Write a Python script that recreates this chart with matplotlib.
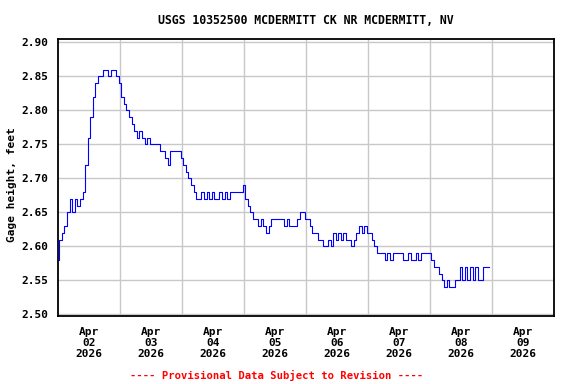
import matplotlib
matplotlib.use('Agg')
import matplotlib.pyplot as plt
import pandas as pd

site_title = "USGS 10352500 MCDERMITT CK NR MCDERMITT, NV"
y_label = "Gage height, feet"
footer = "---- Provisional Data Subject to Revision ----"

apr02 = [2.58, 2.61, 2.62, 2.63, 2.65, 2.67, 2.65, 2.67, 2.66, 2.67, 2.68, 2.72,
         2.76, 2.79, 2.82, 2.84, 2.85, 2.85, 2.86, 2.86, 2.85, 2.86, 2.86, 2.85]
apr03 = [2.84, 2.82, 2.81, 2.80, 2.79, 2.78, 2.77, 2.76, 2.77, 2.76, 2.75, 2.76,
         2.75, 2.75, 2.75, 2.75, 2.74, 2.74, 2.73, 2.72, 2.74, 2.74, 2.74, 2.74]
apr04 = [2.73, 2.72, 2.71, 2.70, 2.69, 2.68, 2.67, 2.67, 2.68, 2.67, 2.68, 2.67,
         2.68, 2.67, 2.67, 2.68, 2.67, 2.68, 2.67, 2.68, 2.68, 2.68, 2.68, 2.68]
apr05 = [2.69, 2.67, 2.66, 2.65, 2.64, 2.64, 2.63, 2.64, 2.63, 2.62, 2.63, 2.64,
         2.64, 2.64, 2.64, 2.64, 2.63, 2.64, 2.63, 2.63, 2.63, 2.64, 2.65, 2.65]
apr06 = [2.64, 2.64, 2.63, 2.62, 2.62, 2.61, 2.61, 2.60, 2.60, 2.61, 2.60, 2.62,
         2.61, 2.62, 2.61, 2.62, 2.61, 2.61, 2.60, 2.61, 2.62, 2.63, 2.62, 2.63]
apr07 = [2.62, 2.62, 2.61, 2.60, 2.59, 2.59, 2.59, 2.58, 2.59, 2.58, 2.59, 2.59,
         2.59, 2.59, 2.58, 2.58, 2.59, 2.58, 2.58, 2.59, 2.58, 2.59, 2.59, 2.59]
apr08 = [2.59, 2.58, 2.57, 2.57, 2.56, 2.55, 2.54, 2.55, 2.54, 2.54, 2.55, 2.55,
         2.57, 2.55, 2.57, 2.55, 2.57, 2.55, 2.57, 2.55, 2.55, 2.57, 2.57, 2.57]

gage = apr02 + apr03 + apr04 + apr05 + apr06 + apr07 + apr08
times = pd.date_range("2026-04-02 00:00", periods=len(gage), freq="h")

y_ticks = [2.50, 2.55, 2.60, 2.65, 2.70, 2.75, 2.80, 2.85, 2.90]
midnights = pd.date_range("2026-04-02", "2026-04-10", freq="D")
noons = pd.date_range("2026-04-02 12:00", periods=8, freq="D")

font = dict(family="DejaVu Sans Mono", weight="bold", size=8)

fig = plt.figure(figsize=(5.76, 3.84), dpi=100)
ax = fig.add_axes([58 / 576, 1 - 316 / 384, 496 / 576, 277 / 384])

ax.plot(times, gage, color="#0000ff", lw=0.8, drawstyle="steps-mid")

ax.set_xlim(midnights[0], midnights[-1])
ax.set_ylim(2.4975, 2.905)

ax.set_yticks(y_ticks)
ax.set_yticklabels([f"{v:.2f}" for v in y_ticks], **font)
ax.set_xticks(noons)
ax.set_xticklabels([d.strftime("%b\n%d\n%Y") for d in noons], linespacing=1.1, **font)
ax.set_xticks(midnights[1:-1], minor=True)

ax.grid(axis="y", color="#c8c8c8", lw=1.0)
ax.grid(axis="x", which="minor", color="#c8c8c8", lw=1.0)
ax.set_axisbelow(True)
ax.tick_params(which="both", length=0)
ax.tick_params(axis="x", pad=8)
ax.tick_params(axis="y", pad=7)
for s in ax.spines.values():
    s.set_linewidth(1.3)

fig.text(306 / 576, 1 - 20 / 384, site_title, ha="center", va="center",
         family="DejaVu Sans Mono", weight="bold", size=8.3)
fig.text(12 / 576, 1 - 185 / 384, y_label, rotation=90, ha="center", va="center", **font)
fig.text(277 / 576, 1 - 375 / 384, footer, ha="center", va="center", color="red",
         family="DejaVu Sans Mono", weight="bold", size=7.6)

fig.savefig("out.png", dpi=100)
